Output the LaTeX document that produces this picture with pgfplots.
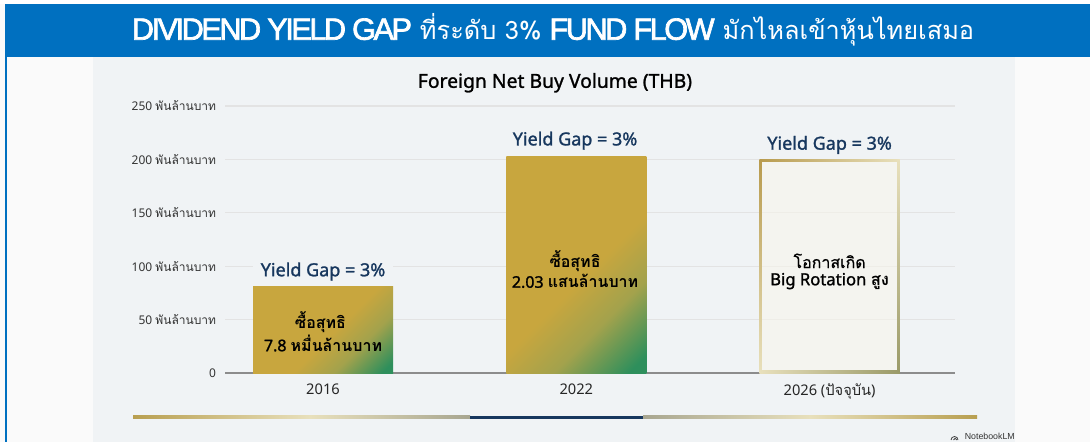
\documentclass[border=0pt]{standalone}
\usepackage{fontspec}
\usepackage{pgfplots}
\pgfplotsset{compat=1.18}
\setmainfont{Noto Sans}
\newfontfamily\nb[FakeBold=1.3]{Noto Sans}
\newfontfamily\thf[Script=Thai]{Loma}
\newfontfamily\thm[Script=Thai,FakeBold=0.7]{Loma}
\newfontfamily\hdf[FakeBold=2.2,LetterSpace=-8]{Liberation Sans}
\newfontfamily\nlm{Liberation Sans}
\definecolor{hdrblue}{HTML}{0070C0}
\definecolor{panel}{HTML}{F0F3F5}
\definecolor{outer}{HTML}{FAFAFA}
\definecolor{gold}{HTML}{C8A63E}
\definecolor{olive}{HTML}{A3A24C}
\definecolor{grn}{HTML}{2E8F5C}
\definecolor{navy}{HTML}{17375E}
\definecolor{pale}{HTML}{E8E0BC}
\definecolor{framegold}{HTML}{B89B4E}
\definecolor{frameolive}{HTML}{9A9A68}
\definecolor{linegold}{HTML}{B89F50}
\definecolor{linegray}{HTML}{A8A690}
\pgfdeclarehorizontalshading{goldgreen}{100bp}{color(0bp)=(gold); color(54bp)=(gold); color(67bp)=(olive); color(82bp)=(grn); color(100bp)=(grn)}
\begin{document}
\begin{tikzpicture}
\useasboundingbox (0pt,0pt) rectangle (817.5pt,-331.5pt);
\begin{scope}[x=0.75pt,y=-0.75pt]
\fill[outer] (0,0) rectangle (1090,442);
\fill[white] (0,0) rectangle (1090,4);
\fill[hdrblue] (5,56) rectangle (6.5,442);
\fill[panel] (93,56) rectangle (1015,442);
\fill[hdrblue] (5,4) rectangle (1090,57);
\fill[hdrblue] (5,56) rectangle (93,57.5);
\node[text=white,inner sep=0pt] at (553,30) {\fontsize{23}{26}\selectfont{\hdf DIVIDEND YIELD GAP} {\fontsize{19}{26}\selectfont\thf ที่ระดับ 3\%} {\hdf FUND FLOW} {\fontsize{19}{26}\selectfont\thf มักไหลเข้าหุ้นไทยเสมอ}};
\shade[left color=linegold,right color=pale] (133,415.5) rectangle (310,418.5);
\shade[left color=pale,right color=linegray] (310,415.5) rectangle (470,418.5);
\fill[navy] (470,415.5) rectangle (643,418.5);
\shade[left color=linegray,right color=pale] (643,415.5) rectangle (810,418.5);
\shade[left color=pale,right color=linegold] (810,415.5) rectangle (977,418.5);
\node[anchor=east,inner sep=0pt,text=black!80] at (1015,436.5) {\fontsize{6.6}{7}\selectfont\nlm NotebookLM};
\draw[black!75,line width=0.6pt] (951,440) arc (180:360:3.5);
\draw[black!75,line width=0.6pt] (953.5,440) arc (180:360:1.7);
\end{scope}
\begin{axis}[
  at={(168.75pt,-279.75pt)},anchor=south west,
  scale only axis,width=547.5pt,height=200.25pt,
  xmin=-0.387,xmax=2.495,ymin=0,ymax=250,
  clip=false,
  axis x line=bottom,axis y line=left,
  x axis line style={-,draw=black!45,line width=1.1pt},
  y axis line style={draw=none},
  major tick length=0pt,
  ymajorgrids,
  grid style={draw=black!11,line width=0.8pt},
  xtick={0,1,2},
  xticklabels={2016,2022,{2026 ({\thf ปัจจุบัน})}},
  ytick={0,50,100,150,200,250},
  yticklabels={0,{50 {\thf พันล้านบาท}},{100 {\thf พันล้านบาท}},{150 {\thf พันล้านบาท}},{200 {\thf พันล้านบาท}},{250 {\thf พันล้านบาท}}},
  yticklabel style={font=\fontsize{9}{10}\selectfont,text=black!80,inner sep=0pt,xshift=-6.5pt},
  xticklabel style={font=\fontsize{11}{12}\selectfont,text=black!85,inner sep=0pt,yshift=-8pt},
  title={\nb Foreign Net Buy Volume (THB)},
  title style={at={(axis description cs:0.452,1.057)},anchor=center,yshift=0pt,font=\fontsize{14.5}{16}\selectfont,inner sep=0pt},
]
\addplot[ybar,bar width=105pt,bar shift=0pt,draw=none,shading=goldgreen,shading angle=-45] coordinates {(0,81)};
\addplot[ybar,bar width=105pt,bar shift=0pt,draw=none,shading=goldgreen,shading angle=-45] coordinates {(1,203)};
% bar 2026: pale fill and gradient frame
\addplot[draw=none,fill=pale!30!white,fill opacity=0.55] coordinates {(1.7236,0) (2.2764,0) (2.2764,200) (1.7236,200)} -- cycle;
\addplot[draw=none,left color=framegold,right color=pale] coordinates {(1.7236,197.7) (2.2764,197.7) (2.2764,200) (1.7236,200)} -- cycle;
\addplot[draw=none,top color=framegold,bottom color=pale] coordinates {(1.7236,0) (1.7330,0) (1.7330,200) (1.7236,200)} -- cycle;
\addplot[draw=none,top color=pale,bottom color=frameolive] coordinates {(2.2670,0) (2.2764,0) (2.2764,200) (2.2670,200)} -- cycle;
\addplot[draw=none,left color=pale,right color=frameolive] coordinates {(1.7236,0) (2.2764,0) (2.2764,2.3) (1.7236,2.3)} -- cycle;
% labels
\node[fill=panel,inner sep=1pt,minimum width=105pt,text=navy,font=\fontsize{13.5}{15}\selectfont\nb] at (axis cs:0,95) {Yield Gap = 3\%};
\node[text=navy,font=\fontsize{13.5}{15}\selectfont\nb] at (axis cs:0.995,217.5) {Yield Gap = 3\%};
\node[text=navy,font=\fontsize{13.5}{15}\selectfont\nb] at (axis cs:2,213.5) {Yield Gap = 3\%};
\node[font=\fontsize{12}{14}\selectfont\bfseries] at (axis cs:-0.01,47.5) {\thf ซื้อสุทธิ};
\node[font=\fontsize{12}{14}\selectfont\bfseries] at (axis cs:0,28) {{\nb 7.8} {\thf หมื่นล้านบาท}};
\node[font=\fontsize{12}{14}\selectfont\bfseries] at (axis cs:0.995,105) {\thf ซื้อสุทธิ};
\node[font=\fontsize{12}{14}\selectfont\bfseries] at (axis cs:0.995,86) {{\nb 2.03} {\thf แสนล้านบาท}};
\node[font=\fontsize{12}{14}\selectfont] at (axis cs:2,105) {\thm โอกาสเกิด};
\node[font=\fontsize{12.5}{14}\selectfont\bfseries] at (axis cs:2,86) {{\nb Big Rotation} {\thf สูง}};
\end{axis}
\end{tikzpicture}
\end{document}
